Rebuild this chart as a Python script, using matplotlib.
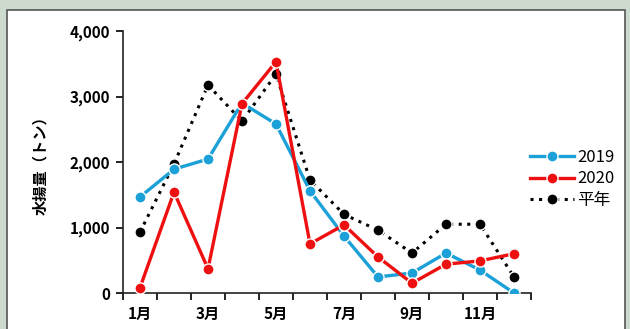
import matplotlib
matplotlib.use("Agg")
import matplotlib.pyplot as plt
from matplotlib.patches import Rectangle
import numpy as np

plt.rcParams['font.family'] = ['Noto Sans CJK JP', 'DejaVu Sans']

months = ["1月", "2月", "3月", "4月", "5月", "6月", "7月", "8月", "9月", "10月", "11月", "12月"]
catch_2019 = [1466, 1890, 2045, 2900, 2580, 1560, 870, 245, 305, 610, 350, 0]
catch_2020 = [80, 1540, 370, 2890, 3530, 750, 1040, 550, 150, 440, 490, 600]
catch_normal = [930, 1970, 3175, 2625, 3340, 1725, 1200, 960, 610, 1050, 1050, 245]

fig = plt.figure(figsize=(6.3, 3.29), dpi=100)
fig.patch.set_facecolor("#cddbcf")
# white panel with a dark frame
fig.add_artist(Rectangle((7 / 630, -0.1), 618 / 630, 1 - 10 / 329 + 0.1,
                         transform=fig.transFigure, facecolor="white",
                         edgecolor="#555555", linewidth=1.2, zorder=0))

ax = fig.add_axes([123 / 630, 36 / 329, 408 / 630, 262 / 329])
ax.set_facecolor("none")

x = np.arange(len(months))
ax.plot(x, catch_2019, color="#1ba1d8", lw=2.4, marker="o", ms=8,
        mec="white", mew=1.0, label="2019", zorder=3)
ax.plot(x, catch_2020, color="#ee1010", lw=2.4, marker="o", ms=8,
        mec="white", mew=1.0, label="2020", zorder=4)
ax.plot(x, catch_normal, color="black", lw=2.2, ls=(0, (1, 1.8)), marker="o", ms=8,
        mec="white", mew=1.0, label="平年", zorder=2)

ax.set_xlim(-0.5, len(months) - 0.5)
ax.set_ylim(0, 4000)
ax.set_yticks([0, 1000, 2000, 3000, 4000])
ax.set_yticklabels(["0", "1,000", "2,000", "3,000", "4,000"], fontsize=11, fontweight="bold")
ax.set_xticks(x[::2])
ax.set_xticklabels(months[::2], fontsize=11, fontweight="bold")
ax.set_xticks(np.arange(-0.5, len(months)), minor=True)
ax.tick_params(axis="x", which="major", length=0, pad=9)
ax.tick_params(axis="x", which="minor", length=5, width=1.2, direction="out")
ax.tick_params(axis="y", length=5, width=1.2, direction="out", pad=4)
for side in ["top", "right"]:
    ax.spines[side].set_visible(False)
for side in ["left", "bottom"]:
    ax.spines[side].set_linewidth(1.2)
    ax.spines[side].set_color("#222222")

ax.set_ylabel("水揚量（トン）", fontsize=11, fontweight="bold", labelpad=16)

ax.legend(loc="center left", bbox_to_anchor=(522 / 630, 150 / 329),
          bbox_transform=fig.transFigure, frameon=False, fontsize=12,
          handlelength=2.6, handletextpad=0.2, labelspacing=0.25, borderpad=0)

fig.savefig("out.png", dpi=100, facecolor=fig.get_facecolor())
